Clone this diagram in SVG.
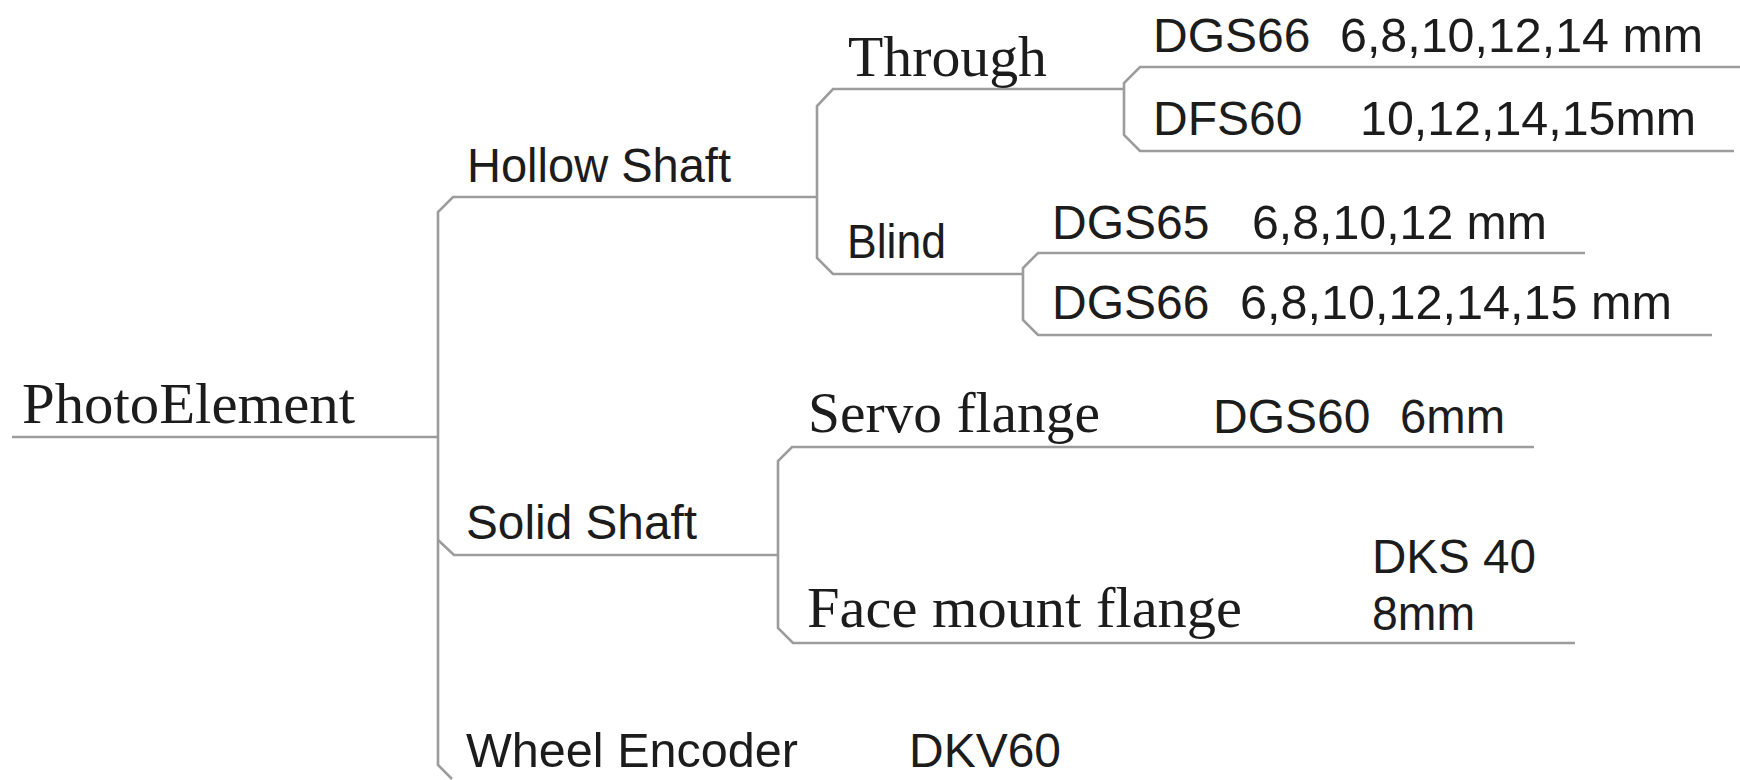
<svg xmlns="http://www.w3.org/2000/svg" width="1740" height="780" viewBox="0 0 1740 780">
<style>
.bg{fill:#ffffff}
.ln{fill:none;stroke:#9c9c9c;stroke-width:2.6;stroke-linejoin:miter}
.serif{font-family:"Liberation Serif","Times New Roman",serif;font-size:58px;fill:#1c1c1c}
.sans{font-family:"Liberation Sans",Arial,sans-serif;font-size:48px;fill:#1c1c1c}
</style>
<rect class="bg" x="0" y="0" width="1740" height="780"/>
<g id="connectors">
  <path class="ln" d="M12,437 H438"/>
  <path class="ln" d="M817,197 H453 L438,212 V765 L452,779"/>
  <path class="ln" d="M438,540 L454,555 H778"/>
  <path class="ln" d="M1124,89 H833 L817,106 V258 L833,274 H1023"/>
  <path class="ln" d="M1740,67 H1140 L1124,83 V135 L1140,151 H1734"/>
  <path class="ln" d="M1585,253 H1038 L1023,268 V320 L1038,335 H1712"/>
  <path class="ln" d="M1534,447 H792 L778,461 V628 L793,643 H1575"/>
</g>
<g id="node-photoelement"><text class="serif" x="22" y="423" textLength="333" lengthAdjust="spacingAndGlyphs">PhotoElement</text></g>
<g id="node-hollow"><text class="sans" x="467" y="182" textLength="264" lengthAdjust="spacingAndGlyphs">Hollow Shaft</text></g>
<g id="node-through"><text class="serif" x="848" y="76" textLength="199" lengthAdjust="spacingAndGlyphs">Through</text></g>
<g id="node-blind"><text class="sans" x="847" y="258" textLength="99" lengthAdjust="spacingAndGlyphs">Blind</text></g>
<g id="node-dgs66-through">
  <text class="sans" x="1153" y="52">DGS66</text>
  <text class="sans" x="1340" y="52" textLength="363" lengthAdjust="spacingAndGlyphs">6,8,10,12,14 mm</text>
</g>
<g id="node-dfs60">
  <text class="sans" x="1153" y="135">DFS60</text>
  <text class="sans" x="1360" y="135" textLength="336" lengthAdjust="spacingAndGlyphs">10,12,14,15mm</text>
</g>
<g id="node-dgs65">
  <text class="sans" x="1052" y="239">DGS65</text>
  <text class="sans" x="1252" y="239" textLength="295" lengthAdjust="spacingAndGlyphs">6,8,10,12 mm</text>
</g>
<g id="node-dgs66-blind">
  <text class="sans" x="1052" y="319">DGS66</text>
  <text class="sans" x="1240" y="319" textLength="432" lengthAdjust="spacingAndGlyphs">6,8,10,12,14,15 mm</text>
</g>
<g id="node-solid"><text class="sans" x="466" y="539" textLength="231" lengthAdjust="spacingAndGlyphs">Solid Shaft</text></g>
<g id="node-servo"><text class="serif" x="808" y="432" textLength="292" lengthAdjust="spacingAndGlyphs">Servo flange</text></g>
<g id="node-dgs60">
  <text class="sans" x="1213" y="433">DGS60</text>
  <text class="sans" x="1400" y="433" textLength="105" lengthAdjust="spacingAndGlyphs">6mm</text>
</g>
<g id="node-face"><text class="serif" x="807" y="627" textLength="435" lengthAdjust="spacingAndGlyphs">Face mount flange</text></g>
<g id="node-dks40">
  <text class="sans" x="1372" y="573" textLength="164" lengthAdjust="spacingAndGlyphs">DKS 40</text>
  <text class="sans" x="1372" y="630" textLength="103" lengthAdjust="spacingAndGlyphs">8mm</text>
</g>
<g id="node-wheel"><text class="sans" x="466" y="767" textLength="332" lengthAdjust="spacingAndGlyphs">Wheel Encoder</text></g>
<g id="node-dkv60"><text class="sans" x="909" y="767" textLength="152" lengthAdjust="spacingAndGlyphs">DKV60</text></g>
</svg>
